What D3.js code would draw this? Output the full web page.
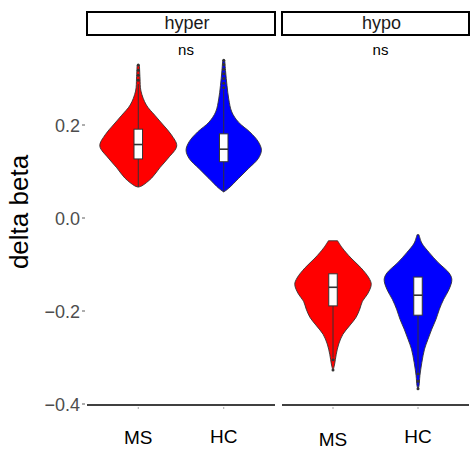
<!DOCTYPE html>
<html>
<head>
<meta charset="utf-8">
<script src="https://cdn.jsdelivr.net/npm/d3@7"></script>
<style>
  body { margin: 0; background: #fff; }
  svg { display: block; font-family: "Liberation Sans", Arial, sans-serif; }
</style>
</head>
<body>
<svg id="chart"></svg>
<script>
// facet panels + groups
const panels = ["hyper", "hypo"];
const groups = ["MS", "HC"];
const fills = ["#ff0000", "#0000ff"];
const pLabels = ["ns", "ns"];
const yTicks = [0.2, 0.0, -0.2, -0.4];

// violin outlines: [delta beta, relative half width]
const hyperMS = [[0.329, 0.03], [0.301, 0.045], [0.273, 0.07], [0.243, 0.21], [0.221, 0.43], [0.200, 0.65],
  [0.179, 0.86], [0.155, 1.0], [0.129, 0.78], [0.108, 0.56], [0.086, 0.35], [0.069, 0.09], [0.0665, 0]];
const hyperHC = [[0.339, 0.026], [0.314, 0.05], [0.285, 0.085], [0.256, 0.13], [0.228, 0.21], [0.206, 0.385],
  [0.185, 0.68], [0.164, 0.9], [0.146, 0.98], [0.128, 0.9], [0.106, 0.64], [0.085, 0.385], [0.064, 0.13], [0.056, 0]];
const hypoMS = [[-0.049, 0.12], [-0.064, 0.24], [-0.086, 0.47], [-0.107, 0.73], [-0.129, 0.94], [-0.143, 1.0],
  [-0.164, 0.9], [-0.179, 0.77], [-0.196, 0.7], [-0.214, 0.6], [-0.232, 0.43], [-0.250, 0.26], [-0.271, 0.15],
  [-0.293, 0.085], [-0.314, 0.043], [-0.329, 0]];
const hypoHC = [[-0.036, 0.026], [-0.054, 0.1], [-0.075, 0.3], [-0.096, 0.53], [-0.118, 0.81], [-0.132, 0.885],
  [-0.154, 0.81], [-0.175, 0.67], [-0.196, 0.56], [-0.218, 0.47], [-0.239, 0.36], [-0.261, 0.26], [-0.282, 0.17],
  [-0.311, 0.1], [-0.339, 0.05], [-0.361, 0.026], [-0.368, 0]];

// box stats: [lower whisker, q1, median, q3, upper whisker]
const boxHyperMS = [0.0665, 0.127, 0.158, 0.191, 0.288];
const boxHyperHC = [0.056, 0.121, 0.148, 0.181, 0.275];
const boxHypoMS = [-0.300, -0.189, -0.149, -0.120, -0.120];
const boxHypoHC = [-0.331, -0.209, -0.166, -0.127, -0.127];

// outlier points
const outHyperMS = [0.329, 0.318, 0.307, 0.296];
const outHyperHC = [0.339, 0.330, 0.320, 0.310, 0.300, 0.290, 0.280];
const outHypoMS = [-0.305, -0.327];
const outHypoHC = [-0.335, -0.351, -0.367];

const violins = [[hyperMS, hyperHC], [hypoMS, hypoHC]];
const boxes = [[boxHyperMS, boxHyperHC], [boxHypoMS, boxHypoHC]];
const outliers = [[outHyperMS, outHyperHC], [outHypoMS, outHypoHC]];

const W = 472, H = 453;
const svg = d3.select("#chart").attr("width", W).attr("height", H);

const panelX = [[87, 275], [282, 469]];
const panelBottom = 405;
const y = d3.scaleLinear().domain([-0.4, 0.2]).range([404, 125]);

// y axis (no line, small ticks)
const yAxis = svg.append("g");
yTicks.forEach(t => {
  yAxis.append("line")
    .attr("x1", 82).attr("x2", 85)
    .attr("y1", y(t)).attr("y2", y(t))
    .attr("stroke", "#333").attr("stroke-width", 0.8);
  yAxis.append("text")
    .attr("x", 80).attr("y", y(t) + 2)
    .attr("text-anchor", "end")
    .attr("dominant-baseline", "middle")
    .attr("fill", "#4d4d4d")
    .style("font-size", "18px")
    .text(d3.format(".1f")(t).replace("-", "\u2212"));
});

svg.append("text")
  .attr("transform", "translate(21,212) rotate(-90)")
  .attr("text-anchor", "middle")
  .attr("dominant-baseline", "middle")
  .attr("fill", "#000")
  .style("font-size", "26px")
  .text("delta beta");

const xLabelY = [[439, 438], [441, 438]];

panels.forEach((p, pi) => {
  const [x0, x1] = panelX[pi];
  const x = d3.scalePoint().domain(groups).range([x0, x1]).padding(0.6);
  const unit = x.step();
  const halfMax = 0.45 * unit;
  const g = svg.append("g");

  // strip
  g.append("rect")
    .attr("x", x0).attr("y", 12)
    .attr("width", x1 - x0).attr("height", 23)
    .attr("fill", "#fff").attr("stroke", "#000").attr("stroke-width", 2);
  g.append("text")
    .attr("x", (x0 + x1) / 2 + 6).attr("y", 24)
    .attr("text-anchor", "middle").attr("dominant-baseline", "middle")
    .attr("fill", "#1a1a1a").style("font-size", "18px")
    .text(p);

  // p-value label
  g.append("text")
    .attr("x", (x0 + x1) / 2 + 5).attr("y", 51)
    .attr("text-anchor", "middle").attr("dominant-baseline", "middle")
    .attr("fill", "#000").style("font-size", "15px")
    .text(pLabels[pi]);

  // x axis line + ticks + labels
  g.append("line")
    .attr("x1", x0).attr("x2", x1)
    .attr("y1", panelBottom).attr("y2", panelBottom)
    .attr("stroke", "#000").attr("stroke-width", 1.5);

  groups.forEach((grp, gi) => {
    const cx = x(grp);
    g.append("line")
      .attr("x1", cx).attr("x2", cx)
      .attr("y1", panelBottom + 2).attr("y2", panelBottom + 4)
      .attr("stroke", "#666").attr("stroke-width", 0.6);
    g.append("text")
      .attr("x", cx).attr("y", xLabelY[pi][gi])
      .attr("text-anchor", "middle").attr("dominant-baseline", "middle")
      .attr("fill", "#000").style("font-size", "19px")
      .text(grp);

    // violin
    const area = d3.area()
      .y(d => y(d[0]))
      .x0(d => cx - d[1] * halfMax)
      .x1(d => cx + d[1] * halfMax)
      .curve(d3.curveCatmullRom.alpha(0.5));
    g.append("path")
      .datum(violins[pi][gi])
      .attr("d", area)
      .attr("fill", fills[gi])
      .attr("stroke", "#333")
      .attr("stroke-width", 0.9);

    // box + whiskers
    const b = boxes[pi][gi];
    const bw = 0.1 * unit;
    g.append("line")
      .attr("x1", cx).attr("x2", cx)
      .attr("y1", y(b[0])).attr("y2", y(b[1]))
      .attr("stroke", "#333").attr("stroke-width", 1);
    g.append("line")
      .attr("x1", cx).attr("x2", cx)
      .attr("y1", y(b[3])).attr("y2", y(b[4]))
      .attr("stroke", "#333").attr("stroke-width", 1);
    g.append("rect")
      .attr("x", cx - bw / 2).attr("y", y(b[3]))
      .attr("width", bw).attr("height", y(b[1]) - y(b[3]))
      .attr("fill", "#fff").attr("stroke", "#333").attr("stroke-width", 1);
    g.append("line")
      .attr("x1", cx - bw / 2).attr("x2", cx + bw / 2)
      .attr("y1", y(b[2])).attr("y2", y(b[2]))
      .attr("stroke", "#333").attr("stroke-width", 1.6);

    // outliers
    g.selectAll(null)
      .data(outliers[pi][gi])
      .join("circle")
      .attr("cx", cx).attr("cy", d => y(d))
      .attr("r", 1.5)
      .attr("fill", "#333");
  });
});
</script>
</body>
</html>
